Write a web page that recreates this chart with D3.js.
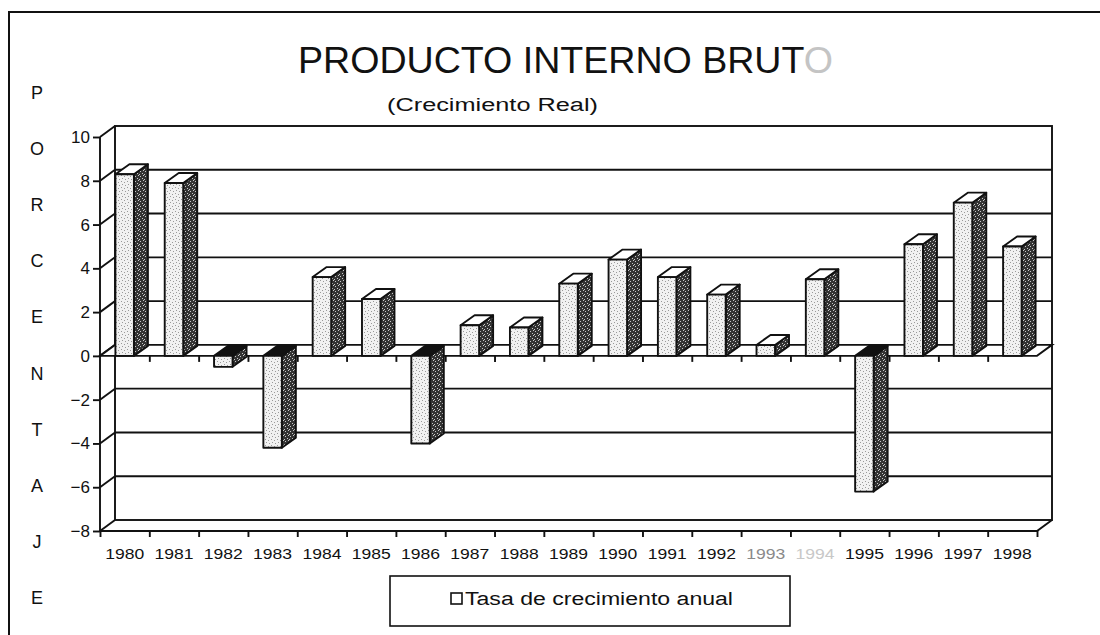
<!DOCTYPE html>
<html>
<head>
<meta charset="utf-8">
<script src="https://cdn.jsdelivr.net/npm/d3@7"></script>
<style>
  html, body { margin: 0; padding: 0; background: #fff; }
  svg { display: block; font-family: "Liberation Sans", Arial, Helvetica, sans-serif; }
</style>
</head>
<body>
<svg id="chart" width="1100" height="635"></svg>
<script>
// Annual real GDP growth, 1980-1998 (%)
const years = ["1980","1981","1982","1983","1984","1985","1986","1987","1988","1989",
               "1990","1991","1992","1993","1994","1995","1996","1997","1998"];
const growth = [8.3, 7.9, -0.5, -4.2, 3.6, 2.6, -4.0, 1.4, 1.3, 3.3,
                4.4, 3.6, 2.8, 0.5, 3.5, -6.2, 5.1, 7.0, 5.0];
const yTicks = [-8, -6, -4, -2, 0, 2, 4, 6, 8, 10];
const axisTitle = ["P","O","R","C","E","N","T","A","J","E"];
const titleText = "PRODUCTO INTERNO BRUTO";
const subtitleText = "(Crecimiento Real)";
const legendText = "Tasa de crecimiento anual";

const svg = d3.select("#chart");
const ink = "#111";
const lw = 1.9;

// plot box (front plane) and depth offsets for the 3-D look
const plotL = 100, plotR = 1037, plotT = 137, plotB = 531;
const WDX = 15, WDY = -11;   // wall depth
const BDX = 14, BDY = -10;   // bar depth

const y = d3.scaleLinear().domain([-8, 10]).range([plotB, plotT]);
const x = d3.scaleBand().domain(years).range([plotL, plotR])
  .paddingInner(0.625).paddingOuter(0.3125);
const edge = d3.scaleLinear().domain([0, years.length]).range([plotL, plotR]);

// fills
const defs = svg.append("defs");
const front = defs.append("pattern").attr("id", "frontFill")
  .attr("width", 6).attr("height", 6).attr("patternUnits", "userSpaceOnUse");
front.append("rect").attr("width", 6).attr("height", 6).attr("fill", "#f1f1f1");
[[1,1],[4,2],[2,4],[5,5]].forEach(([cx, cy]) =>
  front.append("rect").attr("x", cx).attr("y", cy).attr("width", 1).attr("height", 1).attr("fill", "#9a9a9a"));
const side = defs.append("pattern").attr("id", "sideFill")
  .attr("width", 5).attr("height", 5).attr("patternUnits", "userSpaceOnUse");
side.append("rect").attr("width", 5).attr("height", 5).attr("fill", "#333");
[[0,1],[3,0],[2,3],[4,4]].forEach(([cx, cy]) =>
  side.append("rect").attr("x", cx).attr("y", cy).attr("width", 1).attr("height", 1).attr("fill", "#c8c8c8"));

// outer frame
svg.append("path").attr("d", "M9,635 V12 H1100")
  .attr("fill", "none").attr("stroke", ink).attr("stroke-width", 2);

// titles
const title = svg.append("text").attr("x", 298).attr("y", 73)
  .attr("font-size", 36).attr("fill", ink)
  .attr("textLength", 535).attr("lengthAdjust", "spacingAndGlyphs");
title.append("tspan").text(titleText.slice(0, -1));
title.append("tspan").attr("fill", "#c4c4c4").text(titleText.slice(-1));

svg.append("text").attr("x", 387).attr("y", 111)
  .attr("font-size", 18).attr("fill", ink)
  .attr("textLength", 211).attr("lengthAdjust", "spacingAndGlyphs")
  .text(subtitleText);

// vertical axis title, one letter per line
svg.append("g").selectAll("text").data(axisTitle).join("text")
  .attr("x", 37).attr("y", (d, i) => 93 + i * 56.1)
  .attr("text-anchor", "middle").attr("dominant-baseline", "central")
  .attr("font-size", 18).attr("fill", ink).text(d => d);

// walls
const walls = svg.append("g").attr("fill", "none").attr("stroke", ink).attr("stroke-width", lw);
// back wall outline
walls.append("rect")
  .attr("x", plotL + WDX).attr("y", plotT + WDY)
  .attr("width", plotR - plotL).attr("height", plotB - plotT)
  .attr("fill", "#fff");
// side wall front edge
walls.append("line").attr("x1", plotL).attr("x2", plotL).attr("y1", y(10)).attr("y2", y(-8));
// gridlines on back wall + side wall diagonals
yTicks.forEach(v => {
  walls.append("line")
    .attr("x1", plotL).attr("y1", y(v))
    .attr("x2", plotL + WDX).attr("y2", y(v) + WDY);
  if (v !== 0 && v !== 10 && v !== -8) {
    walls.append("line")
      .attr("x1", plotL + WDX).attr("y1", y(v) + WDY)
      .attr("x2", plotR + WDX).attr("y2", y(v) + WDY);
  }
});
// floor at the bottom of the scale
walls.append("path")
  .attr("d", `M${plotL},${y(-8)} H${plotR} L${plotR + WDX},${y(-8) + WDY}`);

// y axis labels and ticks
const yAxis = svg.append("g").attr("transform", `translate(${plotL},0)`)
  .call(d3.axisLeft(y).tickValues(yTicks).tickSize(7).tickPadding(3));
yAxis.select(".domain").remove();
yAxis.selectAll("line").attr("stroke", ink).attr("stroke-width", lw);
yAxis.selectAll("text").attr("font-size", 17).attr("fill", ink)
  .attr("font-family", "Liberation Sans, Arial, sans-serif");

// zero plane
const y0 = y(0);
svg.append("path")
  .attr("d", `M${plotL},${y0} H${plotR} L${plotR + WDX},${y0 + WDY} H${plotL + WDX} Z`)
  .attr("fill", "#fff").attr("stroke", ink).attr("stroke-width", lw);

// bars
const bars = svg.append("g").attr("stroke", ink).attr("stroke-width", lw)
  .attr("stroke-linejoin", "round");
years.forEach((yr, i) => {
  const v = growth[i];
  const x0 = x(yr), w = x.bandwidth();
  const yv = y(v);
  const t = Math.min(yv, y0), b = Math.max(yv, y0);
  const g = bars.append("g");
  g.append("path")
    .attr("d", `M${x0 + w},${t} L${x0 + w + BDX},${t + BDY} L${x0 + w + BDX},${b + BDY} L${x0 + w},${b} Z`)
    .attr("fill", "url(#sideFill)");
  g.append("path")
    .attr("d", `M${x0},${t} L${x0 + BDX},${t + BDY} L${x0 + w + BDX},${t + BDY} L${x0 + w},${t} Z`)
    .attr("fill", v < 0 ? ink : "#fff");
  g.append("rect").attr("x", x0).attr("y", t).attr("width", w).attr("height", b - t)
    .attr("fill", "url(#frontFill)");
});

// category ticks along the zero line
const tickIdx = d3.range(years.length + 1);
const zeroTicks = svg.append("g").attr("transform", `translate(0,${y0})`)
  .call(d3.axisBottom(edge).tickValues(tickIdx.slice(1, -1)).tickFormat("").tickSize(6));
zeroTicks.select(".domain").remove();
zeroTicks.selectAll("line").attr("stroke", ink).attr("stroke-width", lw);

// category axis at the floor
const floorTicks = svg.append("g").attr("transform", `translate(0,${plotB})`)
  .call(d3.axisBottom(edge).tickValues(tickIdx).tickFormat("").tickSize(6));
floorTicks.select(".domain").remove();
floorTicks.selectAll("line").attr("stroke", ink).attr("stroke-width", lw);

const xAxis = svg.append("g").attr("transform", `translate(0,${plotB})`)
  .call(d3.axisBottom(x).tickSize(0).tickPadding(17));
xAxis.select(".domain").remove();
xAxis.selectAll("text")
  .attr("font-size", 15).attr("font-family", "Liberation Sans, Arial, sans-serif")
  .attr("fill", d => d === "1994" ? "#c8c8c8" : d === "1993" ? "#8a8a8a" : ink)
  .attr("textLength", 39).attr("lengthAdjust", "spacingAndGlyphs");

// legend
const legend = svg.append("g");
legend.append("rect").attr("x", 390).attr("y", 576).attr("width", 400).attr("height", 50)
  .attr("fill", "#fff").attr("stroke", ink).attr("stroke-width", 1.6);
legend.append("rect").attr("x", 451).attr("y", 593).attr("width", 11).attr("height", 11)
  .attr("fill", "#fff").attr("stroke", ink).attr("stroke-width", 1.6);
legend.append("text").attr("x", 465).attr("y", 605)
  .attr("font-size", 18).attr("fill", ink)
  .attr("textLength", 268).attr("lengthAdjust", "spacingAndGlyphs")
  .text(legendText);
</script>
</body>
</html>
